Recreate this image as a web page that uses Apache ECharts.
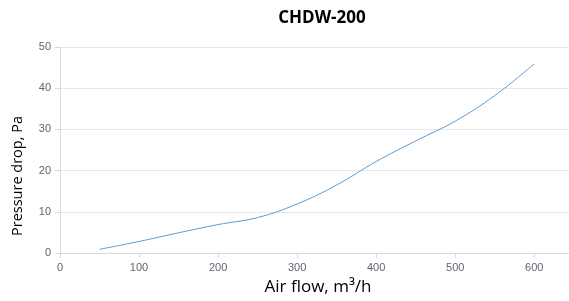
<!DOCTYPE html>
<html>
<head>
<meta charset="utf-8">
<script src="https://cdn.jsdelivr.net/npm/echarts@6/dist/echarts.min.js"></script>
<style>html,body{margin:0;padding:0;background:#fff}#c{width:569px;height:301px}</style>
</head>
<body>
<div id="c"></div>
<script>
var airFlow = [50, 100, 150, 200, 250, 300, 350, 400, 450, 500, 550, 600];
var pressureDrop = [0.9, 2.8, 4.9, 6.9, 8.6, 11.9, 16.5, 22.2, 27.2, 32.0, 38.2, 45.9];
var titleText = 'CHDW-200';
var xName = 'Air flow, m³/h';
var yName = 'Pressure drop, Pa';

var chart = echarts.init(document.getElementById('c'), null, {renderer: 'canvas'});
chart.setOption({
  animation: false,
  title: {
    text: titleText, left: 317, top: 5, textAlign: 'center',
    textStyle: {fontFamily: 'Open Sans', fontSize: 17, fontWeight: 'bold', color: '#000'}
  },
  grid: {left: 60, right: 0, top: 47, bottom: 48, containLabel: false},
  xAxis: {
    type: 'value', min: 0, max: 644, interval: 100,
    name: xName, nameLocation: 'middle', nameGap: 26,
    nameTextStyle: {fontFamily: 'Open Sans', fontSize: 17, color: '#000', padding: [0, 0, 0, 7]},
    axisLine: {show: true, lineStyle: {color: '#d5d9e3'}},
    axisTick: {show: true, lineStyle: {color: '#d5d9e3'}},
    axisLabel: {color: '#5f6470', fontSize: 11, fontFamily: 'Liberation Sans', showMaxLabel: false, margin: 9},
    splitLine: {show: false}
  },
  yAxis: {
    type: 'value', min: 0, max: 50, interval: 10,
    name: yName, nameLocation: 'middle', nameGap: 35,
    nameTextStyle: {fontFamily: 'Open Sans', fontSize: 14.5, color: '#000', padding: [0, 52, 0, 0]},
    axisLine: {show: true, lineStyle: {color: '#d5d9e3'}},
    axisTick: {show: true, lineStyle: {color: '#d5d9e3'}},
    axisLabel: {color: '#5f6470', fontSize: 11, fontFamily: 'Liberation Sans', margin: 9},
    splitLine: {show: true, lineStyle: {color: '#e6e8ee'}}
  },
  series: [{
    type: 'line', smooth: 0.4, showSymbol: false,
    data: airFlow.map(function (x, i) { return [x, pressureDrop[i]]; }),
    lineStyle: {color: '#5b9bd5', width: 1}
  }]
});
</script>
</body>
</html>
